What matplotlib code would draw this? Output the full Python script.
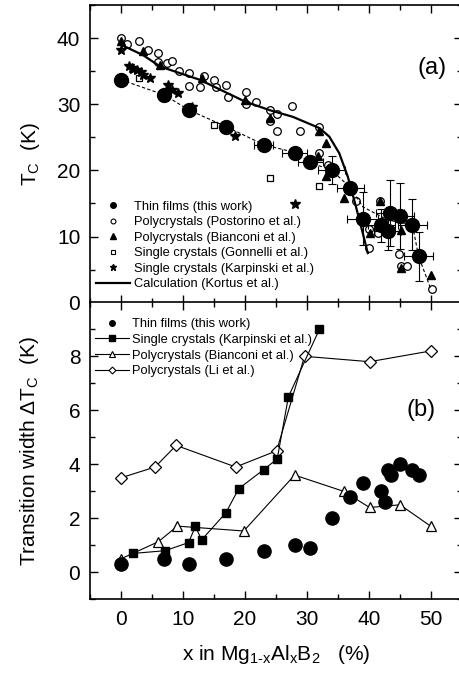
import numpy as np
import matplotlib
matplotlib.use('Agg')
import matplotlib.pyplot as plt
from matplotlib.lines import Line2D

plt.rcParams['font.family'] = ['Liberation Sans', 'DejaVu Sans']
plt.rcParams['mathtext.fontset'] = 'custom'
plt.rcParams['mathtext.rm'] = 'Liberation Sans'
plt.rcParams['mathtext.it'] = 'Liberation Sans:italic'

# ---- panel (a): Tc vs x ----
film_x = [0, 7, 11, 17, 23, 28, 30.5, 34, 37, 39, 42, 43, 43.4, 45, 47, 48]
film_tc = [33.7, 31.4, 29.1, 26.6, 23.9, 22.7, 21.2, 20.0, 17.4, 12.7, 11.7, 10.9, 13.6, 13.1, 11.8, 7.0]
film_xerr = [0, 0, 0, 0, 1.5, 2, 2, 2.2, 2.2, 2.5, 2.2, 2.2, 2.2, 2.3, 2.3, 2.3]
film_tcerr = [0, 0, 0, 0, 0, 0, 0, 2.1, 0, 4.0, 2.5, 3.0, 5.0, 5.0, 3.8, 3.7]

guide_x = [0, 7, 11, 17, 23, 28, 30.5, 34, 37, 39, 43, 47, 48, 50]
guide_tc = [33.7, 31.4, 29.1, 26.6, 23.9, 22.7, 21.2, 20.0, 17.4, 14.5, 12.5, 11.8, 7.0, 2.0]

post_x = [0, 0.9, 2.9, 4.4, 6.0, 6.0, 7.35, 8.3, 9.4, 11.0, 11.0, 12.8, 13.4, 15.0, 15.3,
          16.9, 17.3, 20.2, 20.1, 21.7, 24.0, 24.0, 25.1, 25.1, 27.6, 28.8, 32.0, 32.0,
          33.4, 37.9, 40.0, 40.0, 41.7, 41.4, 44.9, 45.2, 46.1, 50.2]
post_tc = [40.0, 39.1, 39.5, 38.2, 37.8, 36.4, 36.2, 36.5, 35.0, 34.7, 32.7, 32.6, 34.2, 33.6, 32.6,
           32.9, 31.1, 31.9, 30.1, 30.4, 29.1, 27.5, 28.5, 25.9, 29.7, 25.9, 26.6, 22.6,
           20.8, 15.3, 8.2, 11.1, 15.3, 10.6, 7.4, 5.6, 5.6, 2.0]

bian_x = [0, 3.6, 6.3, 13.0, 20.0, 24.0, 31.9, 33.0, 31.7, 33.0, 35.9, 40.1, 41.8, 45.1, 45.1, 50.0]
bian_tc = [39.5, 38.1, 35.9, 33.9, 30.6, 27.9, 26.0, 24.1, 22.2, 19.1, 15.9, 10.5, 15.3, 11.0, 5.2, 4.2]

gonn_x = [2.9, 15.0, 24.0, 32.0]
gonn_tc = [33.9, 26.9, 18.8, 17.6]

karp_x = [0, 1.3, 1.7, 2.0, 2.6, 3.2, 3.6, 4.7, 7.6, 8.2, 9.2, 11.4, 18.4, 28.1]
karp_tc = [38.2, 35.8, 35.5, 35.3, 35.2, 34.8, 34.4, 33.9, 32.9, 32.2, 31.7, 29.6, 25.2, 14.9]

calc_x = [0, 3.6, 6.3, 12.7, 20.0, 24.0, 27.7, 32.0, 33.6, 35.2, 36.6, 37.9, 39.0, 39.8]
calc_tc = [39.0, 37.4, 35.7, 33.7, 30.4, 29.1, 28.1, 26.4, 25.1, 22.6, 19.0, 14.5, 10.5, 7.5]

# ---- panel (b): transition width vs x ----
wfilm_x = [0, 7, 11, 17, 23, 28, 30.5, 34, 37, 39, 42, 42.5, 43, 43.5, 45, 47, 48]
wfilm_dt = [0.3, 0.5, 0.3, 0.5, 0.8, 1.0, 0.9, 2.0, 2.8, 3.3, 3.0, 2.6, 3.8, 3.6, 4.0, 3.8, 3.6]

wkarp_x = [2.0, 7.1, 10.9, 12.0, 13.0, 16.9, 19.0, 23.0, 25.2, 27.0, 32.0]
wkarp_dt = [0.7, 0.8, 1.1, 1.7, 1.2, 2.2, 3.1, 3.8, 4.2, 6.5, 9.0]

wbian_x = [0, 6.0, 9.1, 19.8, 28.0, 35.9, 40.1, 45.0, 50.0]
wbian_dt = [0.5, 1.13, 1.71, 1.53, 3.6, 3.0, 2.4, 2.5, 1.7]

wli_x = [0, 5.5, 8.9, 18.5, 25.1, 29.6, 40.1, 50.0]
wli_dt = [3.5, 3.9, 4.7, 3.9, 4.5, 8.0, 7.8, 8.2]

fig = plt.figure(figsize=(4.59, 6.75), dpi=100)
axa = fig.add_axes([90/459, 1 - 302.7/675, 372/459, 297.7/675])
axb = fig.add_axes([90/459, 1 - 599.3/675, 372/459, 297/675])

for ax in (axa, axb):
    ax.set_xlim(-5, 55)
    ax.set_xticks(np.arange(0, 51, 10))
    ax.set_xticks(np.arange(-5, 56, 5), minor=True)
    ax.tick_params(which='both', direction='in', top=True, right=True, width=1.0, labelsize=15)
    ax.tick_params(which='major', length=6)
    ax.tick_params(which='minor', length=3.5)
    ax.tick_params(axis='y', pad=7)
    ax.tick_params(axis='x', pad=8)
    for s in ax.spines.values():
        s.set_linewidth(1.2)

# panel a
axa.plot(post_x, post_tc, 'o', mfc='white', mec='black', ms=5.5, mew=0.9, zorder=2)
axa.plot(bian_x, bian_tc, '^', color='black', ms=6, zorder=2)
axa.plot(gonn_x, gonn_tc, 's', mfc='white', mec='black', ms=5, mew=0.9, zorder=2)
axa.plot(karp_x, karp_tc, '*', color='black', ms=7, zorder=2)
axa.plot(guide_x, guide_tc, '--', color='black', lw=0.8, dashes=(3, 2), zorder=3)
axa.plot(calc_x, calc_tc, '-', color='black', lw=1.6, zorder=3)
axa.errorbar(film_x, film_tc, xerr=film_xerr, yerr=film_tcerr, fmt='o', color='black',
             ms=10, elinewidth=0.8, capsize=3, capthick=0.8, zorder=4)
axa.set_ylim(0, 45)
axa.set_yticks(np.arange(0, 41, 10))
axa.set_yticks(np.arange(0, 46, 5), minor=True)
axa.tick_params(labelbottom=False)
axa.set_ylabel(r'T$_{\rm C}$  (K)', fontsize=15, labelpad=11)
axa.text(0.92, 0.788, '(a)', transform=axa.transAxes, fontsize=17, ha='center', va='center')

ha = [Line2D([], [], ls='', marker='o', color='black', ms=4),
      Line2D([], [], ls='', marker='o', mfc='white', mec='black', ms=3.5, mew=0.8),
      Line2D([], [], ls='', marker='^', color='black', ms=4),
      Line2D([], [], ls='', marker='s', mfc='white', mec='black', ms=3.5, mew=0.8),
      Line2D([], [], ls='', marker='*', color='black', ms=5),
      Line2D([], [], ls='-', color='black', lw=1.6)]
la = ['Thin films (this work)', 'Polycrystals (Postorino et al.)', 'Polycrystals (Bianconi et al.)',
      'Single crystals (Gonnelli et al.)', 'Single crystals (Karpinski et al.)', 'Calculation (Kortus et al.)']
axa.legend(ha, la, loc='lower left', bbox_to_anchor=(0.01, 0.033), frameon=False, fontsize=9.3,
           handlelength=2.6, handletextpad=0.3, labelspacing=0.27, borderpad=0.2, borderaxespad=0)

# panel b
axb.plot(wli_x, wli_dt, '-D', color='black', mfc='white', mec='black', ms=6, mew=0.9, lw=0.8)
axb.plot(wbian_x, wbian_dt, '-^', color='black', mfc='white', mec='black', ms=7, mew=0.9, lw=0.8)
axb.plot(wkarp_x, wkarp_dt, '-s', color='black', ms=6, lw=0.8)
axb.plot(wfilm_x, wfilm_dt, 'o', color='black', ms=9.5, ls='')
axb.set_ylim(-1, 10)
axb.set_yticks(np.arange(0, 9, 2))
axb.set_yticks(np.arange(-1, 10, 1), minor=True)
axb.set_ylabel('Transition width ΔT$_{\\rm C}$  (K)', fontsize=15, labelpad=20)
axb.set_xlabel(r'x in Mg$_{\rm 1\text{-}x}$Al$_{\rm x}$B$_2$   (%)', fontsize=15, labelpad=10)
axb.text(0.89, 0.637, '(b)', transform=axb.transAxes, fontsize=17, ha='center', va='center')

hb = [Line2D([], [], ls='', marker='o', color='black', ms=4),
      Line2D([], [], ls='-', marker='s', color='black', ms=4, lw=0.8),
      Line2D([], [], ls='-', marker='^', color='black', mfc='white', ms=4, mew=0.8, lw=0.8),
      Line2D([], [], ls='-', marker='D', color='black', mfc='white', ms=3.5, mew=0.8, lw=0.8)]
lb = ['Thin films (this work)', 'Single crystals (Karpinski et al.)',
      'Polycrystals (Bianconi et al.)', 'Polycrystals (Li et al.)']
axb.legend(hb, lb, loc='upper left', bbox_to_anchor=(0.01, 0.95), frameon=False, fontsize=9.3,
           handlelength=2.6, handletextpad=0.3, labelspacing=0.27, borderpad=0.1, borderaxespad=0)

fig.savefig('out.png', dpi=100)
